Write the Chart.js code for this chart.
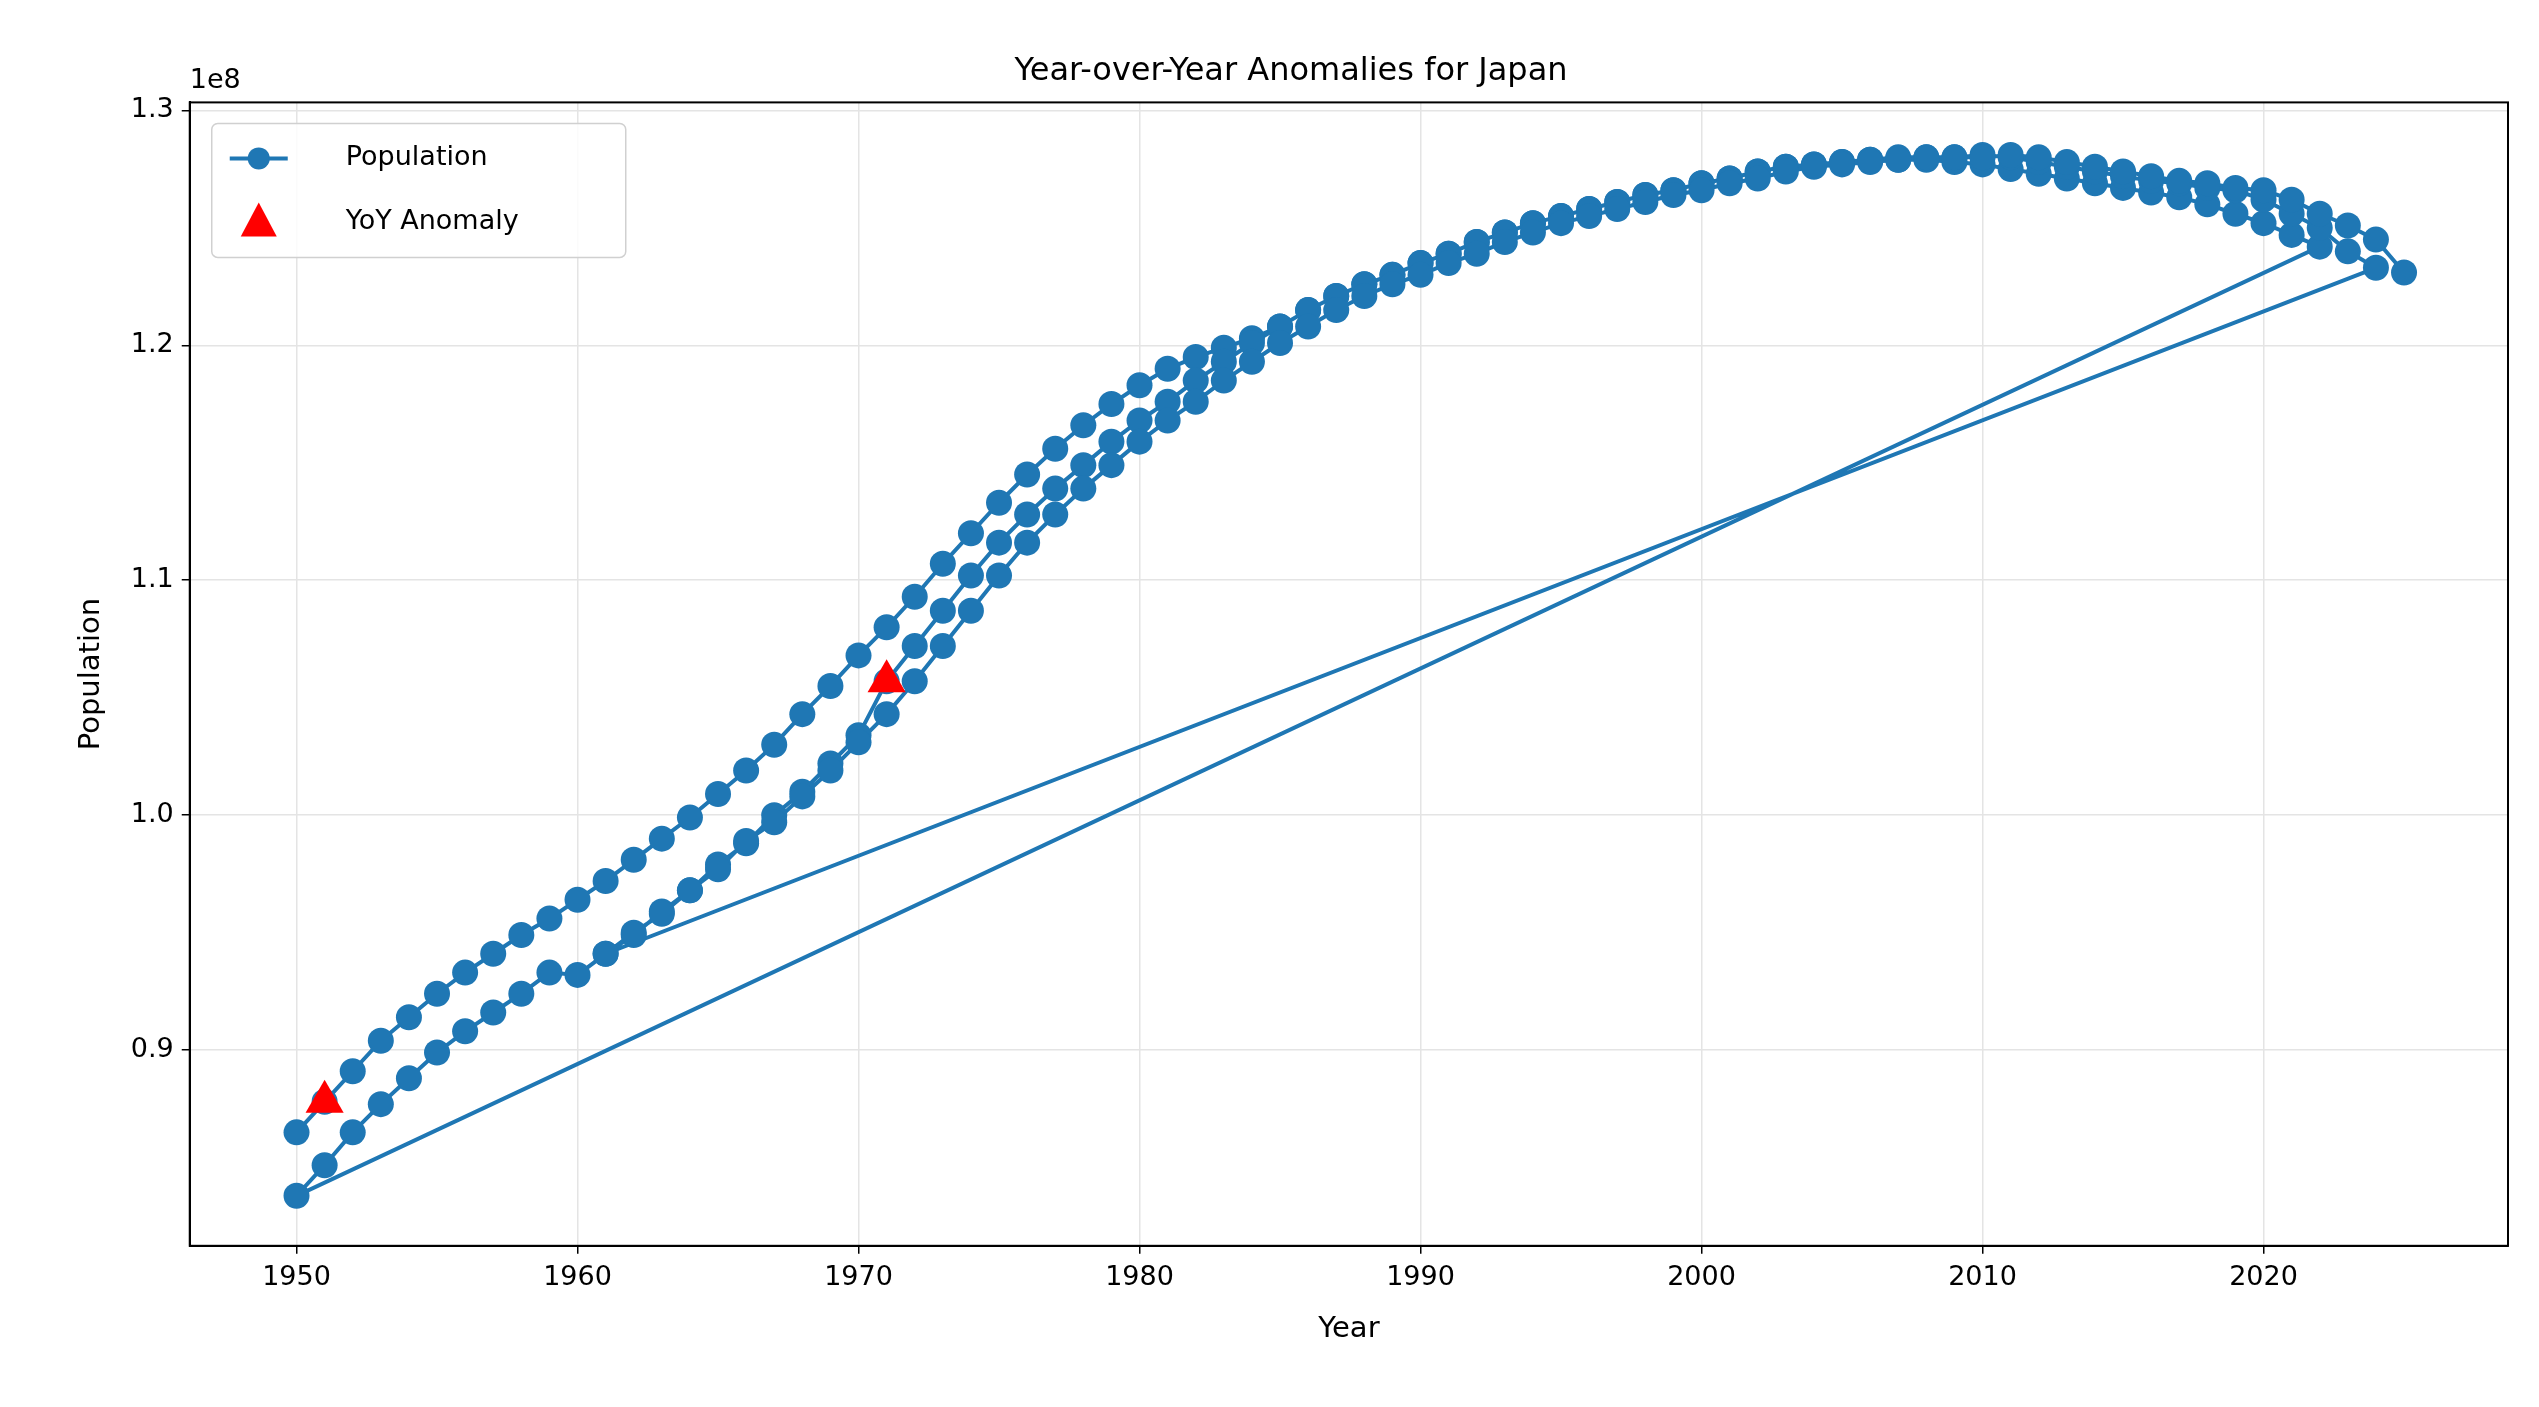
<!DOCTYPE html>
<html>
<head>
<meta charset="utf-8">
<script src="https://cdn.jsdelivr.net/npm/chart.js@4"></script>
<style>
  html, body { margin: 0; padding: 0; background: #fff; }
  #wrap { width: 2539px; height: 1407px; }
</style>
</head>
<body>
<div id="wrap"><canvas id="c" width="2539" height="1407"></canvas></div>
<script>
// Population run A: upper track early on, lower track at the end (ends 2022)
const yearsA = [];
for (let y = 1950; y <= 2022; y++) yearsA.push(y);
const popA = [86.5, 87.8, 89.1, 90.4, 91.4, 92.4, 93.3, 94.1, 94.9, 95.6,
  96.4, 97.2, 98.1, 99.0, 99.9, 100.9, 101.9, 103.0, 104.3, 105.5,
  106.8, 108.0, 109.3, 110.7, 112.0, 113.3, 114.5, 115.6, 116.6, 117.5,
  118.3, 119.0, 119.5, 119.9, 120.3, 120.8, 121.5, 122.1, 122.6, 123.0,
  123.5, 123.9, 124.4, 124.8, 125.2, 125.5, 125.8, 126.1, 126.4, 126.6,
  126.9, 127.1, 127.4, 127.6, 127.7, 127.8, 127.9, 127.9, 127.9, 127.8,
  127.7, 127.5, 127.3, 127.1, 126.9, 126.7, 126.5, 126.3, 126.0, 125.6,
  125.2, 124.7, 124.2];

// Population run B: 1950-2024, lower early
const yearsB = [];
for (let y = 1950; y <= 2024; y++) yearsB.push(y);
const popB = [83.8, 85.1, 86.5, 87.7, 88.8, 89.9, 90.8, 91.6, 92.4, 93.3,
  93.2, 94.1, 94.9, 95.9, 96.8, 97.9, 98.8, 100.0, 101.0, 102.2,
  103.4, 105.7, 107.2, 108.7, 110.2, 111.6, 112.8, 113.9, 114.9, 115.9,
  116.8, 117.6, 118.5, 119.3, 120.1, 120.8, 121.5, 122.1, 122.6, 123.0,
  123.5, 123.9, 124.4, 124.8, 125.2, 125.5, 125.8, 126.1, 126.4, 126.6,
  126.9, 127.1, 127.4, 127.6, 127.7, 127.8, 127.9, 128.0, 128.0, 128.0,
  128.1, 128.0, 127.8, 127.6, 127.4, 127.2, 127.0, 126.9, 126.7, 126.6,
  126.2, 125.6, 125.0, 124.0, 123.3];

// Population run C: 1961-2025
const yearsC = [];
for (let y = 1961; y <= 2025; y++) yearsC.push(y);
const popC = [94.1, 95.0, 95.8, 96.8, 97.7, 98.9, 99.7, 100.8, 101.9, 103.1,
  104.3, 105.7, 107.2, 108.7, 110.2, 111.6, 112.8, 113.9, 114.9, 115.9,
  116.8, 117.6, 118.5, 119.3, 120.1, 120.8, 121.5, 122.1, 122.6, 123.0,
  123.5, 123.9, 124.4, 124.8, 125.2, 125.5, 125.8, 126.1, 126.4, 126.6,
  126.9, 127.1, 127.4, 127.6, 127.7, 127.8, 127.9, 128.0, 128.0, 128.0,
  128.1, 128.0, 127.8, 127.6, 127.4, 127.2, 127.0, 126.9, 126.7, 126.6,
  126.2, 125.6, 125.1, 124.5, 123.1];

// YoY anomalies
const anomalyYears = [1951, 1971];
const anomalyPop = [87.8, 105.7];

const xTicks = [1950, 1960, 1970, 1980, 1990, 2000, 2010, 2020];
const yTicks = [0.9, 1.0, 1.1, 1.2, 1.3];

const BLUE = '#1f77b4';
const FONT = 'DejaVu Sans';

function toPoints(xs, ys) {
  return xs.map((x, i) => ({ x: x, y: ys[i] * 1e6 }));
}
const lineData = toPoints(yearsA, popA)
  .concat(toPoints(yearsB, popB))
  .concat(toPoints(yearsC, popC));

// frame, "1e8" offset label and legend box
const decorPlugin = {
  id: 'decor',
  afterDraw(chart) {
    const ctx = chart.ctx;
    const a = chart.chartArea;
    ctx.save();
    ctx.strokeStyle = '#000';
    ctx.lineWidth = 2;
    ctx.strokeRect(a.left, a.top, a.right - a.left, a.bottom - a.top);

    ctx.fillStyle = '#000';
    ctx.font = '27px ' + FONT;
    ctx.textAlign = 'left';
    ctx.textBaseline = 'bottom';
    ctx.fillText('1e8', a.left, a.top - 8);

    // legend
    const lx = a.left + 22, ly = a.top + 21, lw = 414, lh = 134;
    ctx.fillStyle = 'rgba(255,255,255,0.85)';
    ctx.strokeStyle = '#d0d0d0';
    ctx.lineWidth = 1.5;
    ctx.beginPath();
    ctx.roundRect(lx, ly, lw, lh, 6);
    ctx.fill();
    ctx.stroke();

    const r1 = ly + 35, r2 = ly + 99;
    ctx.strokeStyle = BLUE;
    ctx.lineWidth = 4;
    ctx.beginPath();
    ctx.moveTo(lx + 18, r1);
    ctx.lineTo(lx + 76, r1);
    ctx.stroke();
    ctx.fillStyle = BLUE;
    ctx.beginPath();
    ctx.arc(lx + 47, r1, 11, 0, Math.PI * 2);
    ctx.fill();

    ctx.fillStyle = 'red';
    ctx.beginPath();
    ctx.moveTo(lx + 47, r2 - 20);
    ctx.lineTo(lx + 65, r2 + 14);
    ctx.lineTo(lx + 29, r2 + 14);
    ctx.closePath();
    ctx.fill();

    ctx.fillStyle = '#000';
    ctx.font = '27px ' + FONT;
    ctx.textBaseline = 'middle';
    ctx.fillText('Population', lx + 134, r1);
    ctx.fillText('YoY Anomaly', lx + 134, r2);
    ctx.restore();
  }
};

new Chart(document.getElementById('c'), {
  type: 'line',
  data: {
    datasets: [
      {
        label: 'Population',
        data: lineData,
        borderColor: BLUE,
        backgroundColor: BLUE,
        borderWidth: 4,
        pointRadius: 13,
        pointHoverRadius: 13,
        pointBorderWidth: 0,
        tension: 0,
        order: 2
      },
      {
        label: 'YoY Anomaly',
        type: 'scatter',
        data: toPoints(anomalyYears, anomalyPop),
        pointStyle: 'triangle',
        pointRadius: 22,
        backgroundColor: 'red',
        borderColor: 'red',
        borderWidth: 0,
        order: 1
      }
    ]
  },
  options: {
    responsive: false,
    animation: false,
    layout: { padding: { top: 52, right: 31, bottom: 60, left: 74 } },
    plugins: {
      legend: { display: false },
      tooltip: { enabled: false },
      title: {
        display: true,
        text: 'Year-over-Year Anomalies for Japan',
        color: '#000',
        font: { family: FONT, size: 32, weight: 'normal' },
        padding: { top: 0, bottom: 12 },
        position: 'top'
      }
    },
    scales: {
      x: {
        type: 'linear',
        min: 1946.2,
        max: 2028.7,
        afterBuildTicks: s => { s.ticks = xTicks.map(v => ({ value: v })); },
        ticks: {
          color: '#000',
          font: { family: FONT, size: 27 },
          padding: 8,
          maxRotation: 0,
          callback: v => String(v)
        },
        grid: { color: '#e4e4e4', lineWidth: 1.5, tickColor: '#000', tickLength: 8 },
        border: { color: '#000', width: 2 },
        title: {
          display: true,
          text: 'Year',
          color: '#000',
          font: { family: FONT, size: 29 },
          padding: { top: 10, bottom: 0 }
        }
      },
      y: {
        min: 81.67e6,
        max: 130.34e6,
        afterBuildTicks: s => { s.ticks = yTicks.map(v => ({ value: v * 1e8 })); },
        ticks: {
          color: '#000',
          font: { family: FONT, size: 27 },
          padding: 8,
          callback: v => (v / 1e8).toFixed(1)
        },
        grid: { color: '#e4e4e4', lineWidth: 1.5, tickColor: '#000', tickLength: 8 },
        border: { color: '#000', width: 2 },
        title: {
          display: true,
          text: 'Population',
          color: '#000',
          font: { family: FONT, size: 29 },
          padding: { top: 0, bottom: 14 }
        }
      }
    }
  },
  plugins: [decorPlugin]
});
</script>
</body>
</html>
